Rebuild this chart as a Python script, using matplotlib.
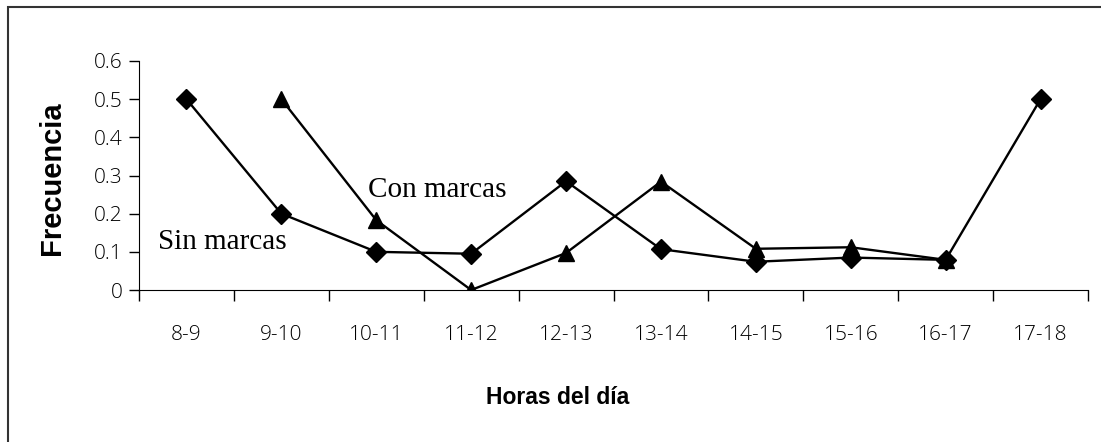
import numpy as np
import matplotlib.pyplot as plt
from matplotlib.patches import Rectangle

# data
horas = ['8-9', '9-10', '10-11', '11-12', '12-13', '13-14', '14-15', '15-16', '16-17', '17-18']
sin_marcas = [0.50, 0.20, 0.10, 0.095, 0.285, 0.107, 0.074, 0.085, 0.079, 0.50]
con_marcas = [np.nan, 0.50, 0.183, 0.0, 0.097, 0.284, 0.108, 0.112, 0.079, np.nan]
yticks = [0, 0.1, 0.2, 0.3, 0.4, 0.5, 0.6]

fig = plt.figure(figsize=(11.01, 4.42), dpi=100)
ax = fig.add_axes([139 / 1101, 152 / 442, 949 / 1101, 229 / 442])

x = np.arange(len(horas)) + 0.5
ax.plot(x, sin_marcas, color='k', lw=1.7, marker='D', ms=10)
ax.plot(x, con_marcas, color='k', lw=1.7, marker='^', ms=11)

ax.set_xlim(0, len(horas))
ax.set_ylim(0, 0.6)
ax.set_yticks(yticks)
ax.set_yticklabels(['0', '0.1', '0.2', '0.3', '0.4', '0.5', '0.6'],
                   fontname='Open Sans', fontsize=15, fontweight='light')
ax.set_xticks(np.arange(len(horas) + 1))
ax.set_xticklabels([])
ax.set_xticks(x, minor=True)
ax.set_xticklabels(horas, minor=True, fontname='Open Sans', fontsize=15, fontweight='light')
ax.tick_params(axis='x', which='minor', length=0, pad=25)
ax.tick_params(axis='x', which='major', length=8, width=1, direction='out')
ax.tick_params(axis='y', length=7, width=1, direction='out', pad=5)
for s in ['top', 'right']:
    ax.spines[s].set_visible(False)

fig.text(368 / 1101, 1 - 190 / 442, 'Con marcas',
         fontname='Liberation Serif', fontsize=21, va='center', ha='left')
fig.text(158 / 1101, 1 - 242 / 442, 'Sin marcas',
         fontname='Liberation Serif', fontsize=21, va='center', ha='left')
fig.text(52 / 1101, 1 - 178 / 442, 'Frecuencia', rotation=90, fontname='Liberation Sans',
         fontweight='bold', fontsize=21, ha='center', va='center')
fig.text(558 / 1101, 1 - 397 / 442, 'Horas del día', fontname='Liberation Sans',
         fontweight='bold', fontsize=16.5, ha='center', va='center')

# outer frame, cut off at right and bottom
fig.patches.append(Rectangle((8 / 1101, -0.1), 1.2, 1.1 - 7 / 442, transform=fig.transFigure,
                             fill=False, ec='#333333', lw=1.5))

fig.savefig('out.png', dpi=100)
